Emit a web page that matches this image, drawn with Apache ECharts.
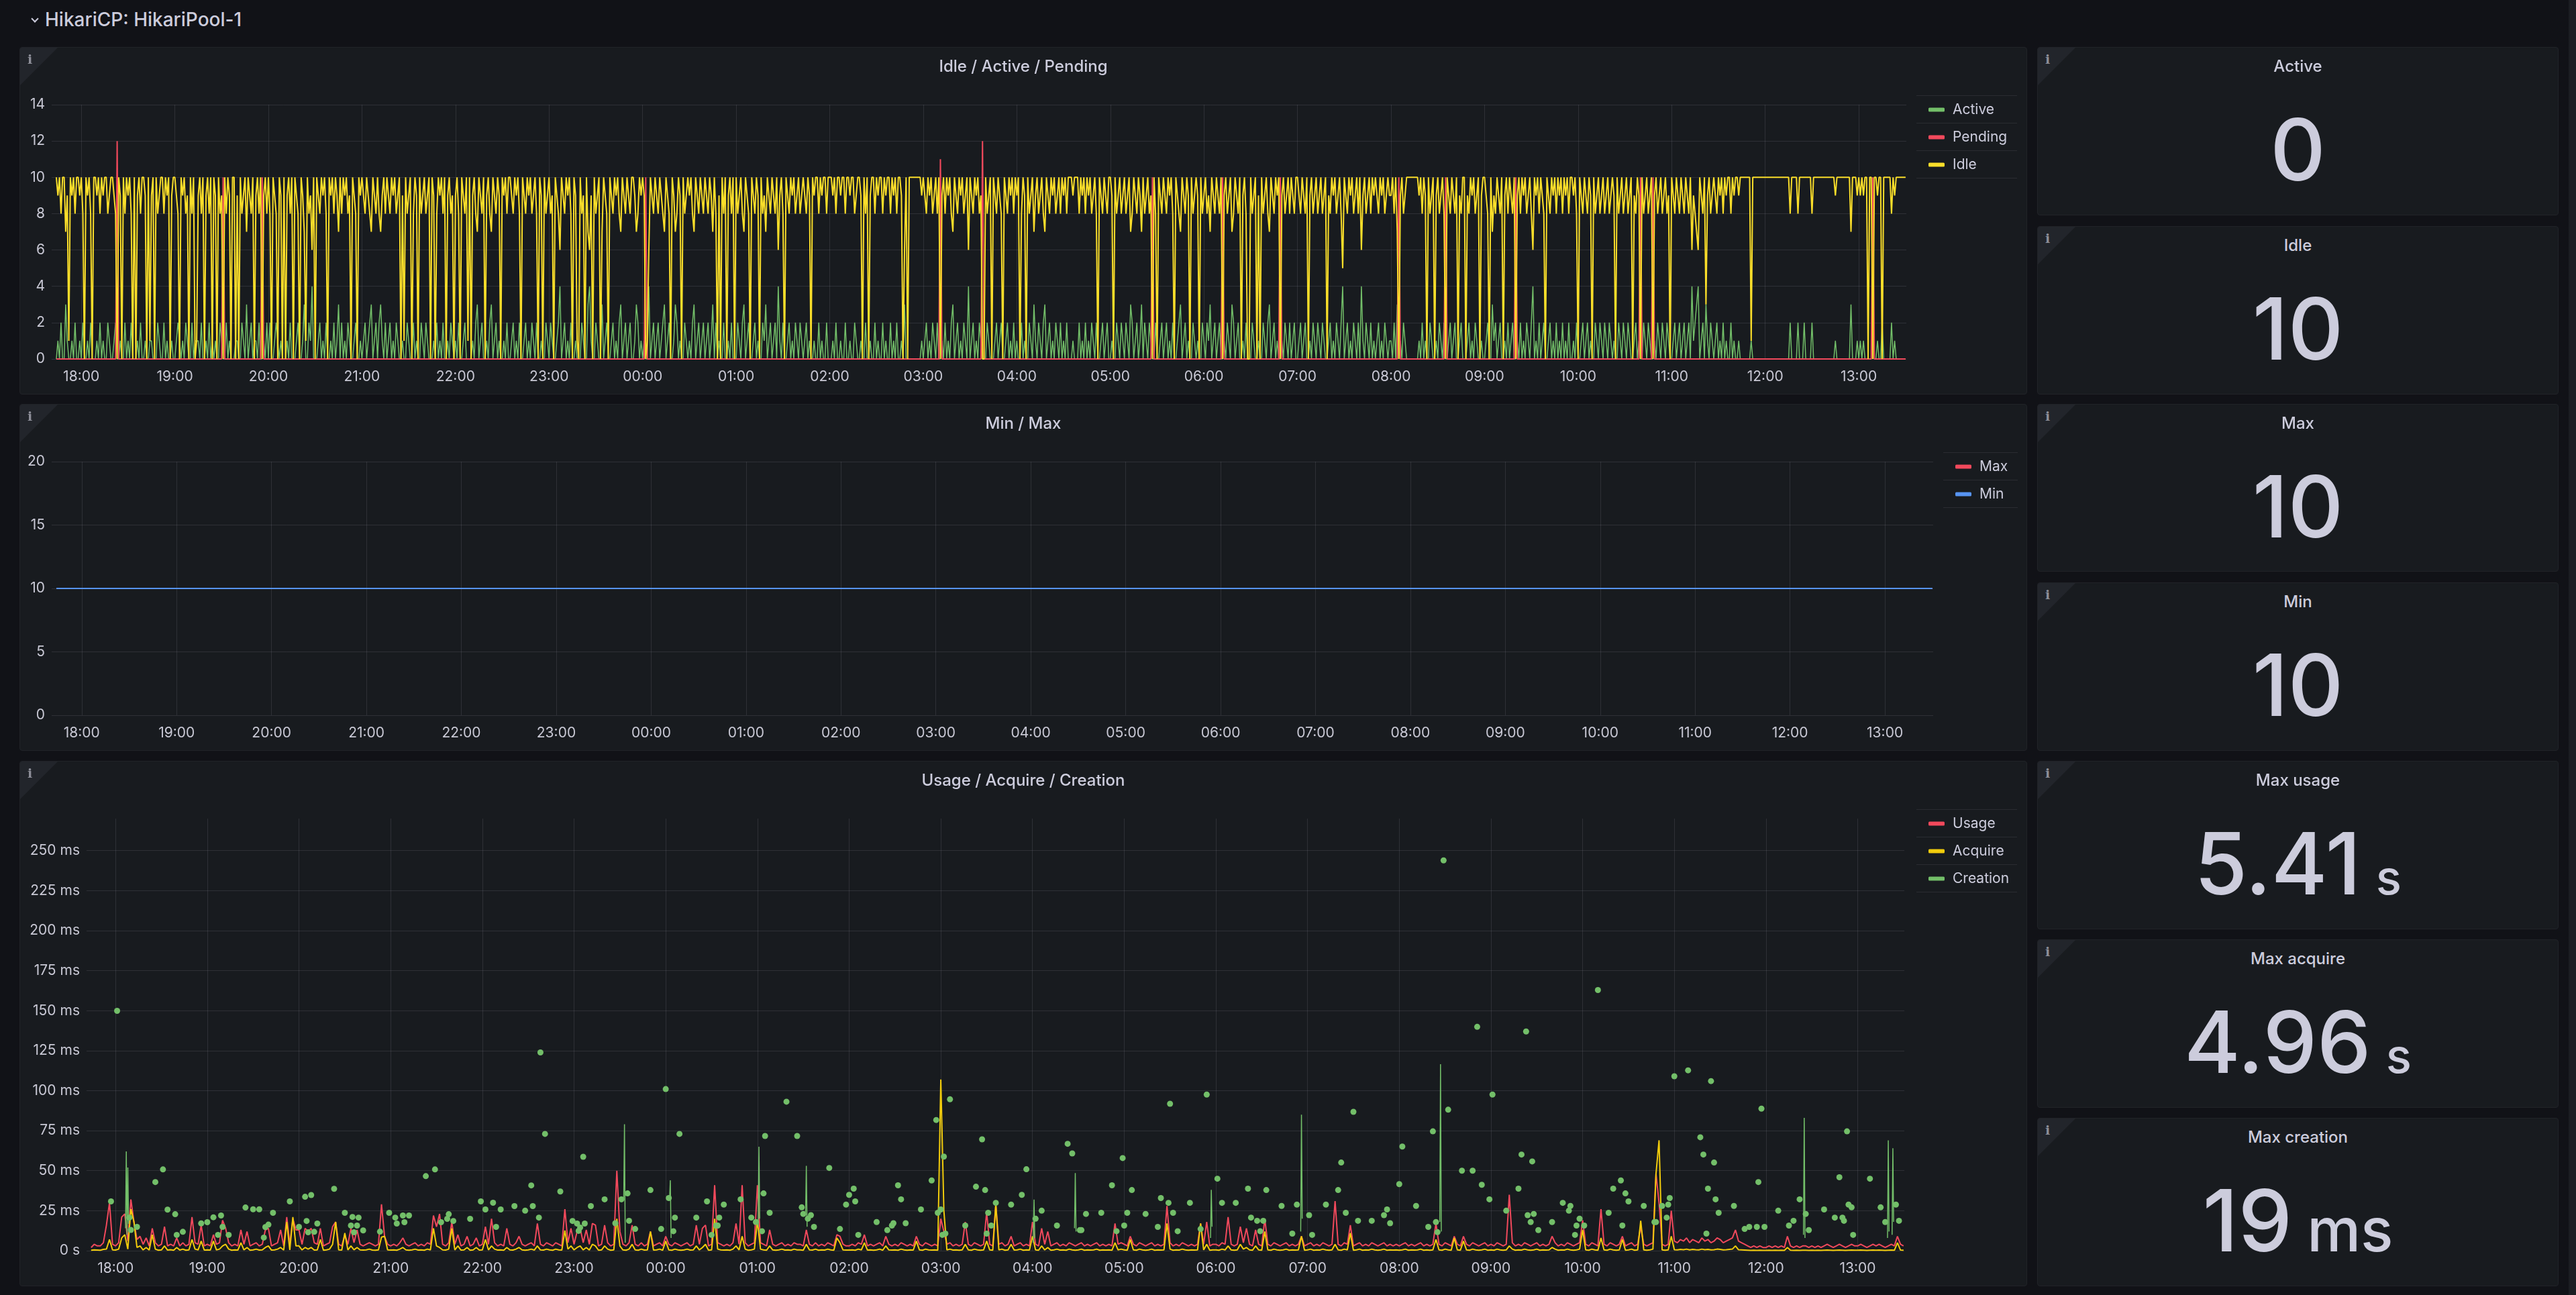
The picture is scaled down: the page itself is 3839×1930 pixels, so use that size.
<!DOCTYPE html>
<html>
<head>
<meta charset="utf-8">
<title>HikariCP: HikariPool-1</title>
<script src="https://cdn.jsdelivr.net/npm/echarts@6.0.0/dist/echarts.min.js"></script>
<style>
html,body{margin:0;padding:0;background:#111217;}
body{width:3839px;height:1930px;position:relative;overflow:hidden;font-family:Inter,Roboto,"Noto Sans",sans-serif;color:#ccccdc;}
.row{position:absolute;left:67px;top:15px;font-size:28px;line-height:28px;font-weight:500;white-space:nowrap;}
.chev{position:absolute;left:48px;top:24px;width:6px;height:6px;border-right:2px solid #ccccdc;border-bottom:2px solid #ccccdc;transform:rotate(45deg);}
.panel{position:absolute;background:#181b1f;border:1px solid #212328;border-radius:4px;overflow:hidden;box-sizing:border-box;}
.corner{position:absolute;left:0;top:0;width:0;height:0;border-top:56px solid #22252b;border-right:56px solid transparent;z-index:2;}
.info{position:absolute;left:11px;top:6px;font:bold 19px "DejaVu Serif",serif;color:#8e8f99;z-index:3;}
.ptitle{position:absolute;left:0;right:0;top:14px;line-height:28px;text-align:center;font-size:24px;font-weight:500;z-index:3;white-space:nowrap;}
.chart{position:absolute;left:0;top:0;width:100%;height:100%;}
.sep{position:absolute;height:1px;background:#2a2c31;z-index:3;}
.sval{position:absolute;left:0;right:0;top:88px;text-align:center;font-size:128px;line-height:128px;font-weight:500;color:#ccccdc;white-space:nowrap;}
.unit{margin-left:22px;}
.scroll{position:absolute;left:3828px;top:0;width:11px;height:1930px;background:#1b1d22;}
</style>
</head>
<body>
<div class="chev"></div>
<div class="row">HikariCP: HikariPool-1</div>

<div class="panel" id="p1" style="left:29px;top:70px;width:2992px;height:518px">
  <div class="chart" id="c1"></div>
  <div class="corner"></div><div class="info">i</div>
  <div class="ptitle">Idle / Active / Pending</div>
  <div class="sep" style="left:2826px;top:71px;width:150px"></div>
  <div class="sep" style="left:2826px;top:112px;width:150px"></div>
  <div class="sep" style="left:2826px;top:153px;width:150px"></div>
  <div class="sep" style="left:2826px;top:194px;width:150px"></div>
</div>

<div class="panel" id="p2" style="left:29px;top:602px;width:2992px;height:517px">
  <div class="chart" id="c2"></div>
  <div class="corner"></div><div class="info">i</div>
  <div class="ptitle">Min / Max</div>
  <div class="sep" style="left:2866px;top:71px;width:111px"></div>
  <div class="sep" style="left:2866px;top:112px;width:111px"></div>
  <div class="sep" style="left:2866px;top:153px;width:111px"></div>
</div>

<div class="panel" id="p3" style="left:29px;top:1134px;width:2992px;height:783px">
  <div class="chart" id="c3"></div>
  <div class="corner"></div><div class="info">i</div>
  <div class="ptitle">Usage / Acquire / Creation</div>
  <div class="sep" style="left:2826px;top:71px;width:150px"></div>
  <div class="sep" style="left:2826px;top:112px;width:150px"></div>
  <div class="sep" style="left:2826px;top:153px;width:150px"></div>
  <div class="sep" style="left:2826px;top:194px;width:150px"></div>
</div>
<div class="scroll"></div>

<script>
// ---- data ----

// idle connections, one value per minute from 17:44 to 13:30
var idleConnections = [
// 17:44
10,9,10,8,10,10,7,9,1,10,9,10,8,10,10,9,
// 18:00
10,8,0,10,9,10,8,0,10,10,9,10,8,10,9,10,10,8,9,10,10,9,8,0,10,9,0,10,8,10,
9,10,8,0,10,0,9,10,8,10,10,9,0,10,1,9,10,0,10,8,9,10,10,8,10,9,10,0,9,10,
// 19:00
10,9,8,0,10,9,10,8,9,0,10,8,10,0,1,9,10,8,10,0,9,10,8,10,0,10,9,0,10,8,
9,0,10,8,10,9,0,10,10,0,9,0,10,8,9,10,7,10,9,8,10,0,9,10,8,10,0,9,10,8,
// 20:00
10,8,0,10,9,8,0,10,9,0,10,0,9,10,8,10,0,10,9,8,0,10,9,7,1,10,8,9,6,10,
0,10,9,8,10,9,10,8,0,10,9,10,8,10,9,7,10,8,10,9,10,8,9,0,10,9,8,0,10,9,
// 21:00
10,9,8,10,9,8,7,10,9,8,10,8,7,9,10,8,10,9,8,10,9,10,8,9,10,0,9,1,10,8,
9,10,0,8,10,9,0,10,8,9,10,8,9,10,0,10,9,0,8,10,9,10,8,10,0,9,10,8,9,0,
// 22:00
9,10,8,0,10,9,8,10,1,10,0,9,10,8,7,10,9,8,10,0,9,10,8,7,10,9,8,10,9,0,
10,9,10,8,10,10,9,8,10,9,10,8,0,10,9,8,10,9,10,8,9,10,8,0,10,9,0,10,8,9,
// 23:00
10,8,9,0,10,9,8,6,10,9,8,10,9,10,8,0,10,9,1,0,10,8,9,0,10,7,6,9,0,10,
8,9,10,0,7,10,9,8,0,10,9,8,10,9,10,8,7,10,9,8,10,9,8,10,10,9,7,8,10,9,
// 00:00
10,9,0,1,6,10,9,8,10,9,8,10,9,8,7,10,9,8,0,10,9,7,8,10,9,0,10,8,9,10,
9,10,8,7,10,9,8,10,9,8,10,9,8,10,9,7,10,8,0,9,0,10,8,10,0,9,10,8,10,0,
// 01:00
10,8,9,10,8,7,10,9,8,0,10,9,8,10,9,0,10,8,9,7,10,9,8,10,9,8,10,6,9,10,
8,0,10,9,8,10,9,10,8,9,10,8,9,10,9,8,10,9,0,10,9,10,10,8,10,9,10,10,8,10,
// 02:00
10,10,9,10,8,10,10,9,10,10,8,10,10,9,10,10,8,9,10,10,9,0,10,8,10,0,9,10,10,8,
10,9,10,10,8,10,9,10,10,8,10,9,10,8,10,10,9,0,6,10,0,10,10,10,10,10,10,10,10,9,
// 03:00
10,9,8,10,9,10,8,9,10,8,10,0,9,10,8,10,9,10,8,7,10,9,8,10,9,10,8,9,10,6,
10,9,8,10,9,10,8,9,0,0,10,8,9,10,0,10,9,8,10,9,8,0,10,9,8,10,9,10,8,10,
// 04:00
9,10,0,8,10,9,0,10,8,9,10,7,9,10,8,9,10,8,7,10,9,8,10,9,10,8,9,10,8,10,
9,10,8,10,10,10,9,10,10,10,8,10,9,10,8,10,9,10,8,9,10,8,0,10,9,8,10,9,8,10,
// 05:00
10,9,0,10,8,9,10,8,9,10,8,9,10,7,8,10,9,8,10,9,7,10,8,9,10,8,9,0,10,8,
0,10,9,8,10,9,8,10,9,10,8,0,10,9,8,7,10,9,8,10,9,0,10,8,9,10,9,0,10,8,
// 06:00
9,10,8,9,7,10,9,8,10,9,8,10,0,9,10,8,9,10,7,8,10,9,8,10,0,9,10,8,0,0,
10,8,9,10,0,9,0,10,8,9,10,8,7,10,9,8,10,9,10,0,9,10,8,9,10,8,10,9,8,10,
// 07:00
10,9,8,10,9,8,10,0,9,10,8,9,10,8,9,10,8,9,10,0,9,8,10,9,10,8,9,10,8,5,
10,9,8,10,9,10,8,9,10,8,10,6,9,10,8,9,10,8,10,9,10,9,8,10,9,10,8,9,10,9,
// 08:00
9,10,8,10,7,0,9,10,8,9,10,10,10,10,10,10,10,10,9,10,8,10,9,0,10,8,9,10,0,9,
10,8,9,10,8,0,10,9,8,10,9,8,10,0,9,8,10,10,0,9,8,10,9,10,8,9,10,0,9,10,
// 09:00
10,9,8,0,10,7,9,8,10,9,8,10,0,9,10,8,10,9,8,10,0,9,10,8,10,9,10,8,9,10,
8,6,10,9,10,8,10,9,8,0,10,9,8,10,9,10,8,10,9,10,8,10,9,10,8,10,10,9,10,8,
// 10:00
0,10,9,8,10,9,8,10,9,0,10,8,9,10,8,9,10,8,9,10,8,9,10,9,0,10,8,9,10,8,
9,10,8,9,10,0,9,8,10,9,0,10,8,9,10,8,9,10,0,9,10,8,9,10,8,9,10,8,9,0,
// 11:00
10,9,8,10,9,8,10,9,8,10,9,8,10,6,9,8,7,6,10,9,8,10,3,9,10,8,9,10,9,8,
10,9,10,8,10,9,10,10,8,10,9,10,10,9,10,10,10,10,10,10,10,1,10,10,10,10,10,10,10,10,
// 12:00
10,10,10,10,10,10,10,10,10,10,10,10,10,10,10,10,8,10,10,10,10,8,10,10,10,10,10,10,10,10,
8,10,10,10,10,10,10,10,10,10,10,10,10,10,10,9,10,10,10,10,10,10,10,10,10,7,10,10,10,9,
// 13:00
10,9,10,9,10,10,0,10,10,0,10,10,9,10,10,0,10,10,10,10,10,8,10,9,10,10,10,10,10,10,10
];

// active connections, same minutes
var activeConnections = [
// 17:44
0,1,0,2,0,0,3,1,0,0,1,0,2,0,0,1,
// 18:00
0,2,0,0,1,0,2,0,0,0,1,0,2,0,1,0,0,2,1,0,0,1,2,0,0,1,0,0,2,0,
1,0,2,0,0,0,1,0,2,0,0,1,0,0,1,1,0,0,0,2,1,0,0,2,0,1,0,0,1,0,
// 19:00
0,1,2,1,0,1,0,2,1,0,0,2,0,1,1,1,0,2,0,0,1,0,2,0,1,0,1,0,0,2,
1,0,0,2,0,1,0,0,0,1,1,0,0,2,1,0,3,0,1,2,0,1,1,0,2,0,0,1,0,2,
// 20:00
0,2,0,0,1,2,1,0,1,0,0,0,1,0,2,0,0,0,1,2,0,0,1,3,0,0,2,1,4,0,
0,0,1,2,0,1,0,2,0,0,1,0,2,0,1,3,0,2,0,1,0,2,1,0,0,1,2,0,0,1,
// 21:00
0,1,2,0,1,2,3,0,1,2,0,2,3,1,0,2,0,1,2,0,1,0,2,1,0,0,1,0,0,2,
1,0,0,2,0,1,0,0,2,1,0,2,1,0,0,0,1,0,2,0,1,0,2,0,0,1,0,2,1,0,
// 22:00
1,0,2,0,0,1,2,0,0,0,0,1,0,2,3,0,1,2,0,0,1,0,2,3,0,1,2,0,1,0,
0,1,0,2,0,0,1,2,0,1,0,2,0,0,1,2,0,1,0,2,1,0,2,0,0,1,0,0,2,1,
// 23:00
0,2,1,0,0,1,2,4,0,1,2,0,1,0,2,0,0,1,0,0,0,2,1,0,0,3,4,1,0,0,
2,1,0,0,3,0,1,2,0,0,1,2,0,1,0,2,3,0,1,2,0,1,2,0,0,1,3,2,0,1,
// 00:00
0,1,0,0,4,0,1,2,0,1,2,0,1,2,3,0,1,2,0,0,1,3,2,0,1,0,0,2,1,0,
1,0,2,3,0,1,2,0,1,2,0,1,2,0,1,3,0,2,0,1,0,0,2,0,0,1,0,2,0,0,
// 01:00
0,2,1,0,2,3,0,1,2,0,0,1,2,0,1,0,0,2,1,3,0,1,2,0,1,2,0,4,1,0,
2,0,0,1,2,0,1,0,2,1,0,2,1,0,1,2,0,1,0,0,1,0,0,2,0,1,0,0,2,0,
// 02:00
0,0,1,0,2,0,0,1,0,0,2,0,0,1,0,0,2,1,0,0,1,0,0,2,0,0,1,0,0,2,
0,1,0,0,2,0,1,0,0,2,0,1,0,2,0,0,1,0,3,0,0,0,0,0,0,0,0,0,0,1,
// 03:00
0,1,2,0,1,0,2,1,0,2,0,0,1,0,2,0,1,0,2,3,0,1,2,0,1,0,2,1,0,4,
0,1,2,0,1,0,2,1,0,0,0,2,1,0,0,0,1,2,0,1,2,0,0,1,2,0,1,0,2,0,
// 04:00
1,0,0,2,0,1,0,0,2,1,0,3,1,0,2,1,0,2,3,0,1,2,0,1,0,2,1,0,2,0,
1,0,2,0,0,0,1,0,0,0,2,0,1,0,2,0,1,0,2,1,0,2,0,0,1,2,0,1,2,0,
// 05:00
0,1,0,0,2,1,0,2,1,0,2,1,0,3,2,0,1,2,0,1,3,0,2,1,0,2,1,0,0,2,
0,0,1,2,0,1,2,0,1,0,2,0,0,1,2,3,0,1,2,0,1,0,0,2,1,0,1,0,0,2,
// 06:00
1,0,2,1,3,0,1,2,0,1,2,0,0,1,0,2,1,0,3,2,0,1,2,0,0,1,0,2,0,0,
0,2,1,0,0,1,0,0,2,1,0,2,3,0,1,2,0,1,0,0,1,0,2,1,0,2,0,1,2,0,
// 07:00
0,1,2,0,1,2,0,0,1,0,2,1,0,2,1,0,2,1,0,0,1,2,0,1,0,2,1,0,2,4,
0,1,2,0,1,0,2,1,0,2,0,4,1,0,2,1,0,2,0,1,0,1,2,0,1,0,2,1,0,1,
// 08:00
1,0,2,0,3,0,1,0,2,1,0,0,0,0,0,0,0,0,1,0,2,0,1,0,0,2,1,0,0,1,
0,2,1,0,2,0,0,1,2,0,1,2,0,0,1,2,0,0,0,1,2,0,1,0,2,1,0,0,1,0,
// 09:00
0,1,2,0,0,3,1,2,0,1,2,0,0,1,0,2,0,1,2,0,0,1,0,2,0,1,0,2,1,0,
2,4,0,1,0,2,0,1,2,0,0,1,2,0,1,0,2,0,1,0,2,0,1,0,2,0,0,1,0,2,
// 10:00
0,0,1,2,0,1,2,0,1,0,0,2,1,0,2,1,0,2,1,0,2,1,0,1,0,0,2,1,0,2,
1,0,2,1,0,0,1,2,0,1,0,0,2,1,0,2,1,0,0,1,0,2,1,0,2,1,0,2,1,0,
// 11:00
0,1,2,0,1,2,0,1,2,0,1,2,0,4,1,2,3,4,0,1,2,0,3,1,0,2,1,0,1,2,
0,1,0,2,0,1,0,0,2,0,1,0,0,1,0,0,0,0,0,0,0,1,0,0,0,0,0,0,0,0,
// 12:00
0,0,0,0,0,0,0,0,0,0,0,0,0,0,0,0,2,0,0,0,0,2,0,0,0,2,0,0,0,0,
2,0,0,0,0,0,0,0,0,0,0,0,0,0,0,1,0,0,0,0,0,0,0,0,0,3,0,0,0,1,
// 13:00
0,1,0,1,0,0,0,0,0,3,0,0,1,0,0,2,0,0,0,0,0,2,0,1,0,0,0,0,0,0,0
];

// pending threads: zero except these minutes
var pendingSpikes = [
['18:23',12],['19:31',10],['19:56',10],['00:02',10],['03:11',11],['03:38',12],['05:27',10],
['06:12',10],['06:49',10],['08:05',10],['08:35',10],['09:20',10],['10:40',10],['10:48',10],['13:09',10]
];

// pool limits
var poolTimes = ['17:44','18:00','19:00','20:00','21:00','22:00','23:00','00:00','01:00','02:00','03:00',
'04:00','05:00','06:00','07:00','08:00','09:00','10:00','11:00','12:00','13:00','13:30'];
var maxPool = [10,10,10,10,10,10,10,10,10,10,10,10,10,10,10,10,10,10,10,10,10,10];
var minPool = [10,10,10,10,10,10,10,10,10,10,10,10,10,10,10,10,10,10,10,10,10,10];

// usage time (ms), one value every 2 minutes from 17:44 to 13:30
var usageMs = [
// 17:44
2,4,3,3,5,16,30,4,
// 18:00
3,5,21,23,6,32,18,7,9,4,8,3,14,5,3,4,15,3,4,3,8,3,5,3,4,21,5,4,16,3,
// 19:00
4,3,10,4,5,19,14,5,3,4,3,13,4,12,3,4,5,3,4,13,14,3,4,5,13,3,21,4,20,13,
// 20:00
13,4,14,12,14,5,4,14,3,4,5,15,18,4,3,10,4,14,5,13,4,3,4,5,4,3,4,29,9,4,
// 21:00
3,4,3,5,8,4,3,4,5,3,4,3,5,4,22,15,23,4,3,5,18,4,10,3,4,9,3,4,8,3,
// 22:00
4,15,4,20,5,3,4,3,14,4,3,5,9,4,3,4,5,3,17,4,3,5,4,3,5,4,3,26,5,14,
// 23:00
4,12,14,5,13,4,17,16,3,4,16,5,3,4,50,12,4,3,5,16,4,3,5,3,4,12,3,4,5,3,
// 00:00
9,4,3,5,4,3,4,5,3,4,16,4,14,16,3,4,41,5,4,3,4,3,5,17,4,41,5,3,4,5,
// 01:00
41,5,4,3,13,4,3,4,5,3,4,3,5,4,4,3,13,4,3,5,3,4,3,5,4,3,10,9,4,3,
// 02:00
3,4,3,5,4,10,3,4,3,4,5,3,9,4,3,4,3,5,4,3,4,3,9,4,3,5,4,3,4,3,
// 03:00
20,12,4,5,3,4,3,4,18,4,3,5,4,3,4,24,4,3,29,4,5,3,4,9,3,4,5,3,4,3,
// 04:00
18,4,3,14,4,12,3,4,5,3,4,3,5,4,3,4,5,3,4,3,4,5,3,4,3,4,3,17,4,5,
// 05:00
4,3,9,4,3,5,4,3,4,5,3,4,3,4,28,5,3,4,3,5,4,3,4,3,4,17,4,18,3,4,
// 06:00
4,3,5,4,21,4,3,4,15,5,14,4,3,13,4,3,20,4,3,5,4,3,4,5,3,4,3,4,9,3,
// 07:00
4,5,3,4,3,5,4,3,4,31,4,3,5,4,16,3,4,5,3,4,3,5,4,3,4,5,3,4,3,4,
// 08:00
3,4,5,3,4,3,4,5,3,4,3,4,17,4,3,5,4,3,9,4,3,9,4,3,5,4,3,4,5,3,
// 09:00
4,3,5,4,3,4,35,5,3,4,3,5,4,3,4,5,3,4,3,4,9,5,3,4,3,5,4,3,4,5,
// 10:00
19,4,3,5,4,3,26,4,3,5,4,3,4,9,3,4,5,3,4,15,4,3,4,5,48,30,4,3,4,25,
// 11:00
6,5,7,6,8,5,7,6,5,8,6,7,5,6,8,7,5,6,7,8,13,6,5,4,3,2,3,2,3,2,
// 12:00
2,3,2,3,2,3,2,9,3,2,3,2,3,3,2,3,2,3,2,3,4,3,2,3,4,3,2,3,4,3,
// 13:00
3,4,3,2,3,4,3,4,3,2,3,4,3,9,4,3
];

// acquire time (ms), same 2-minute steps
var acquireMs = [
// 17:44
0.3,0.5,0.4,0.3,0.8,1,7,0.5,
// 18:00
0.4,1,8,10,1,26,18,2,3,0.5,2,0.4,10,1,0.3,0.5,3,0.4,0.6,0.3,2,0.4,1,0.3,0.5,7,1,0.5,6,0.4,
// 19:00
0.5,0.4,6,0.5,1,3,4,1,0.3,0.5,0.4,5,0.5,2,0.3,0.5,1,0.4,0.5,2,3,0.4,0.5,1,2,0.4,18,0.5,21,3,
// 20:00
3,0.5,2,1,2,0.4,0.5,7,0.3,0.5,1,4,18,0.5,0.4,11,0.5,3,0.6,2,0.5,0.4,0.5,1,0.4,0.3,0.5,8.5,9,0.5,
// 21:00
0.4,0.5,0.3,1,2,0.5,0.3,0.5,1,0.4,0.5,0.3,1,0.5,14,3,2,0.5,0.4,1,14,0.5,3,0.4,0.5,2,0.3,0.5,2,0.4,
// 22:00
0.5,7,0.5,3,1,0.4,0.5,0.3,2,0.5,0.4,1,2,0.5,0.3,0.5,1,0.4,3,0.5,0.4,1,0.5,0.3,1,0.5,0.4,12.6,1,3,
// 23:00
0.5,2,3,0.5,2,0.4,4,3,0.3,0.5,3,1,0.3,0.5,20,3,0.5,0.3,1,4,0.5,0.3,1,0.4,0.5,12,0.4,0.5,1,0.3,
// 00:00
6,0.5,0.3,1,0.5,0.3,0.5,1,0.4,0.5,3,0.5,2,4,0.3,0.5,20,1,0.5,0.4,0.5,0.3,1,3,0.5,9,1,0.3,0.5,1,
// 01:00
18.7,1,0.5,0.3,3,0.5,0.3,0.5,1,0.4,0.5,0.3,1,0.5,0.5,0.3,4,0.5,0.4,1,0.3,0.5,0.4,1,0.5,0.3,8,5,0.5,0.4,
// 02:00
0.4,0.5,0.3,1,0.5,5,0.4,0.5,0.3,0.5,1,0.3,3,0.5,0.4,0.5,0.3,1,0.5,0.3,0.5,0.4,6,0.5,0.3,1,0.5,0.4,0.5,0.3,
// 03:00
107,25,0.5,1,0.4,0.5,0.3,0.5,4,0.5,0.3,1,0.5,0.3,0.5,6,0.5,0.3,29,0.5,1,0.3,0.5,4,0.4,0.5,1,0.3,0.5,0.4,
// 04:00
9,0.5,0.3,3,0.5,2,0.3,0.5,1,0.4,0.5,0.3,1,0.5,0.3,0.5,1,0.3,0.5,0.4,0.5,1,0.3,0.5,0.4,0.5,0.3,5,0.5,1,
// 05:00
0.5,0.3,7,0.5,0.3,1,0.5,0.3,0.5,1,0.3,0.5,0.4,0.5,17,1,0.3,0.5,0.4,1,0.5,0.3,0.5,0.4,0.5,17,0.5,4,0.3,0.5,
// 06:00
0.5,0.3,1,0.5,3,0.5,0.3,0.5,4,1,2,0.5,0.3,3,0.5,0.3,12,0.5,0.3,1,0.5,0.3,0.5,1,0.3,0.5,0.4,0.5,9,0.3,
// 07:00
0.5,1,0.3,0.5,0.4,1,0.5,0.3,0.5,4,0.5,0.3,1,0.5,11,0.3,0.5,1,0.3,0.5,0.4,1,0.5,0.3,0.5,1,0.3,0.5,0.4,0.5,
// 08:00
0.3,0.5,1,0.3,0.5,0.4,0.5,1,0.3,0.5,0.3,0.5,7,0.5,0.3,1,0.5,0.3,8,0.5,0.3,6,0.5,0.3,1,0.5,0.3,0.5,1,0.3,
// 09:00
0.5,0.3,1,0.5,0.3,0.5,3,1,0.3,0.5,0.4,1,0.5,0.3,0.5,1,0.3,0.5,0.4,0.5,2,1,0.3,0.5,0.4,1,0.5,0.3,0.5,1,
// 10:00
13,0.5,0.3,1,0.5,0.3,8,0.5,0.3,1,0.5,0.3,0.5,7,0.3,0.5,1,0.3,0.5,18.7,0.5,0.3,0.5,1,48,69,0.5,0.3,0.5,9,
// 11:00
0.6,0.5,0.8,0.6,1,0.5,0.8,0.6,0.5,1,0.6,0.8,0.5,0.6,1,0.8,0.5,0.6,0.8,1,3,0.6,0.5,0.4,0.3,0.2,0.3,0.2,0.3,0.2,
// 12:00
0.2,0.3,0.2,0.3,0.2,0.3,0.2,2,0.3,0.2,0.3,0.2,0.3,0.3,0.2,0.3,0.2,0.3,0.2,0.3,0.4,0.3,0.2,0.3,0.4,0.3,0.2,0.3,0.4,0.3,
// 13:00
0.3,0.4,0.3,0.2,0.3,0.4,0.3,0.4,0.3,0.2,0.3,0.4,0.3,5,0.4,0.3
];

// connection creation (ms): isolated samples shown as dots
var creationDots = [
['17:57',30.8],['18:01',149.9],['18:09',20.7],['18:10',13],['18:14',14.9],['18:26',42.9],['18:31',50.8],['18:34',25.7],['18:39',22.8],['18:40',9.9],['18:44',11.8],['18:56',17.1],
['19:00',17.8],['19:04',20.9],['19:07',9.9],['19:09',22],['19:10',14.9],['19:14',9.9],['19:25',27],['19:30',25.9],['19:34',25.9],['19:37',8.2],['19:38',14.8],['19:40',16.3],['19:43',23.7],['19:54',30.8],
['20:00',14.9],['20:04',33.7],['20:05',18.6],['20:06',11.5],['20:08',34.8],['20:10',11.8],['20:12',17],['20:23',38.7],['20:30',23.7],['20:34',15.7],['20:35',21.1],['20:36',11.5],['20:38',15.7],['20:39',20.7],['20:42',12.7],['20:53',11.9],['20:59',23.7],
['21:03',20.7],['21:04',17],['21:08',22],['21:09',17.8],['21:12',22],['21:23',46.6],['21:29',50.8],['21:33',17.8],['21:37',19.9],['21:38',22.8],['21:41',18.6],['21:52',19.9],['21:59',30.8],
['22:02',25.8],['22:07',30],['22:09',14.9],['22:12',25.8],['22:21',27.9],['22:28',25],['22:32',40.8],['22:33',27.9],['22:37',20.7],['22:38',123.9],['22:41',73],['22:51',37],['22:59',18.6],
['23:02',17],['23:03',12.4],['23:04',14.5],['23:06',58.7],['23:07',17],['23:11',27.9],['23:20',32.1],['23:27',17.2],['23:31',32.1],['23:35',35.8],['23:36',18.7],['23:40',13.6],['23:50',37.9],['23:57',13.6],
['00:00',101],['00:02',32.9],['00:05',12.2],['00:06',20.7],['00:09',73],['00:20',20.7],['00:27',30.8],['00:30',9.9],['00:33',15.7],['00:34',15.7],['00:35',20.7],['00:38',28.8],['00:49',32.1],['00:56',20.7],['00:59',17.9],
['01:03',12.2],['01:04',35.8],['01:05',71.7],['01:08',23.7],['01:19',93.1],['01:26',71.7],['01:29',27.1],['01:30',23],['01:33',20],['01:35',22.2],['01:37',14.9],['01:47',51.7],['01:54',13.6],['01:58',28.8],
['02:00',34.9],['02:03',38.8],['02:04',30.8],['02:06',9.9],['02:18',17.9],['02:25',12.9],['02:28',15.7],['02:29',17.2],['02:32',40.9],['02:34',32.1],['02:37',17.2],['02:47',25.8],['02:54',43.9],['02:57',81.7],['02:58',23.7],
['03:00',25.8],['03:01',9.9],['03:02',58.8],['03:03',10.7],['03:06',94.6],['03:16',15.7],['03:23',40],['03:27',69.6],['03:29',37.9],['03:30',10.7],['03:31',23.7],['03:33',15.7],['03:36',29.9],['03:46',28.8],['03:53',34.9],['03:56',50.9],
['04:02',20],['04:06',25],['04:16',15.7],['04:23',66.8],['04:26',60.8],['04:31',12.9],['04:32',12.9],['04:35',23],['04:45',23.7],['04:52',40.9],['04:55',12.2],['04:59',57.9],
['05:00',15.7],['05:02',23.7],['05:05',37.9],['05:14',23],['05:22',14.9],['05:24',32.9],['05:29',29.9],['05:30',91.8],['05:32',23.7],['05:35',12.2],['05:43',29.9],['05:50',13.6],['05:54',97.6],
['06:01',45],['06:04',29.9],['06:13',29.9],['06:21',38.8],['06:23',20.7],['06:27',18.7],['06:29',12.2],['06:31',18.7],['06:33',37.9],['06:43',28],['06:50',10.7],['06:53',28.8],
['07:01',22.2],['07:03',9.9],['07:12',28.8],['07:20',37.9],['07:22',55.1],['07:25',23.7],['07:30',86.8],['07:33',18.7],['07:42',18.7],['07:50',22.2],['07:52',25.8],['07:54',17.2],
['08:00',41.6],['08:02',65.1],['08:11',28],['08:19',14.9],['08:22',74.6],['08:24',17.9],['08:25',11.6],['08:29',243.9],['08:32',88.1],['08:41',50],['08:48',50],['08:51',139.9],['08:54',41.2],['08:59',32.1],
['09:01',97.6],['09:10',25],['09:18',38.8],['09:20',60.1],['09:23',137],['09:24',22.2],['09:26',17.9],['09:27',55.8],['09:28',23],['09:31',12.9],['09:40',17.9],['09:47',29.9],['09:51',25],['09:52',28],['09:55',9.9],['09:56',15.7],['09:58',20],
['10:01',15.7],['10:10',162.9],['10:17',23.7],['10:20',38.8],['10:25',43.9],['10:26',15.7],['10:28',35.8],['10:30',30.8],['10:40',28],['10:47',17.9],['10:48',17.9],['10:52',28],['10:55',20.7],['10:56',28.8],['10:57',32.9],
['11:00',109],['11:09',112.7],['11:17',70.9],['11:19',60.1],['11:21',10.7],['11:22',38.8],['11:24',106],['11:26',55.1],['11:27',32.1],['11:29',23.7],['11:39',28],['11:46',13.6],['11:49',14.9],['11:54',14.9],['11:55',42.9],['11:57',88.8],['11:59',14.9],
['12:08',25],['12:15',15.7],['12:18',18.7],['12:22',32.1],['12:26',23],['12:28',12.9],['12:38',25.8],['12:45',20.7],['12:48',45.9],['12:50',20.7],['12:51',18.7],['12:53',74.6],['12:54',28.8],['12:56',27.1],['12:57',9.9],
['13:08',45],['13:15',27.1],['13:18',17.9],['13:25',28.8],['13:27',18.7]
];

// connection creation: consecutive samples drawn as thin lines
var creationRuns = [
[['18:06:30',14],['18:07',62],['18:07:30',10],['18:08',52],['18:08:30',16.8]],
[['23:32:30',32],['23:33',79],['23:33:30',5]],
[['00:02:30',32],['00:03',44],['00:03:30',8]],
[['01:00:30',15],['01:01',65],['01:01:30',20]],
[['01:31:30',22],['01:32',53],['01:32:30',15]],
[['04:00:30',5],['04:01',32],['04:01:30',8]],
[['04:27:30',14],['04:28',48.5],['04:28:30',12]],
[['05:56:30',8],['05:57',38],['05:57:30',15]],
[['06:55:30',12],['06:56',85],['06:56:30',20]],
[['08:26:30',18],['08:27',116.6],['08:27:30',12]],
[['12:24:30',10],['12:25',83],['12:25:30',8]],
[['13:19:30',8],['13:20',69],['13:20:30',12]],
[['13:22:30',10],['13:23',64],['13:23:30',18]]
];

// stat panels
var statTitles = ['Active','Idle','Max','Min','Max usage','Max acquire','Max creation'];
var statValues = ['0','10','10','10','5.41','4.96','19'];
var statUnits = ['','','','','s','s','ms'];

// ---- helpers ----
var DAY0 = Date.UTC(2024, 2, 4);
function ts(s) {
    var p = s.split(':');
    var h = +p[0], m = +p[1], sec = p[2] ? +p[2] : 0;
    var day = h < 17 ? 1 : 0;   // anything before 17:00 is on the next day
    return DAY0 + ((day * 24 + h) * 60 + m) * 60000 + sec * 1000;
}
function two(n) { return (n < 10 ? '0' : '') + n; }
function hhmm(v) { var d = new Date(v); return two(d.getUTCHours()) + ':' + two(d.getUTCMinutes()); }
function stepped(arr, start, stepMin) {
    var t0 = ts(start);
    return arr.map(function (v, i) { return [t0 + i * stepMin * 60000, v]; });
}

var GREEN = '#73BF69', RED = '#F2495C', YELLOW = '#FADE2A', GOLD = '#F2CC0C', BLUE = '#5794F2';
var GRIDC = 'rgba(204,204,220,0.12)';
var TXT = '#c8c8d4';
var FONT = 'Inter';

function xAxisCfg() {
    return {
        type: 'time', min: ts('17:41'), max: ts('13:30:30'),
        minInterval: 3600000, maxInterval: 3600000,
        axisLine: {show: false}, axisTick: {show: false},
        splitLine: {show: true, showMinLine: false, showMaxLine: false, lineStyle: {color: GRIDC, width: 1}},
        axisLabel: {color: TXT, fontSize: 21, fontFamily: FONT, margin: 16,
            showMinLabel: false, showMaxLabel: false, formatter: hhmm}
    };
}
function yAxisCfg(max, interval, fmt, hideTop) {
    return {
        type: 'value', min: 0, max: max, interval: interval,
        axisLine: {show: false}, axisTick: {show: false},
        splitLine: {show: true, showMaxLine: !hideTop, lineStyle: {color: GRIDC, width: 1}},
        axisLabel: {color: TXT, fontSize: 21, fontFamily: FONT, margin: 10,
            showMaxLabel: !hideTop, formatter: fmt}
    };
}
function legendCfg(left, names) {
    return {
        orient: 'vertical', left: left, top: 67, itemWidth: 24, itemHeight: 6, itemGap: 0,
        icon: 'roundRect', selectedMode: false, data: names,
        textStyle: {color: '#ccccdc', fontSize: 21, fontFamily: FONT, lineHeight: 41, padding: [0, 0, 0, 7]}
    };
}
function lineSeries(name, data, color, width) {
    return {name: name, type: 'line', data: data, showSymbol: false, color: color,
        lineStyle: {color: color, width: width}, emphasis: {disabled: true}, silent: true};
}

// ---- Idle / Active / Pending ----
var pendingMap = {};
pendingSpikes.forEach(function (p) { pendingMap[ts(p[0])] = p[1]; });
var activeData = stepped(activeConnections, '17:44', 1);
var idleData = stepped(idleConnections, '17:44', 1);
var pendingData = idleData.map(function (d) { return [d[0], pendingMap[d[0]] || 0]; });

var c1 = echarts.init(document.getElementById('c1'));
c1.setOption({
    animation: false, useUTC: true,
    grid: {left: 47, right: 179, top: 85, bottom: 52, outerBoundsMode: 'none'},
    legend: legendCfg(2839, ['Active', 'Pending', 'Idle']),
    xAxis: xAxisCfg(),
    yAxis: yAxisCfg(14, 2, null, false),
    series: [
        lineSeries('Active', activeData, GREEN, 1.5),
        lineSeries('Pending', pendingData, RED, 2),
        lineSeries('Idle', idleData, YELLOW, 2)
    ]
});

// ---- Min / Max ----
var maxData = poolTimes.map(function (t, i) { return [ts(t), maxPool[i]]; });
var minData = poolTimes.map(function (t, i) { return [ts(t), minPool[i]]; });
var c2 = echarts.init(document.getElementById('c2'));
c2.setOption({
    animation: false, useUTC: true,
    grid: {left: 47, right: 139, top: 85, bottom: 52, outerBoundsMode: 'none'},
    legend: legendCfg(2879, ['Max', 'Min']),
    xAxis: xAxisCfg(),
    yAxis: yAxisCfg(20, 5, null, false),
    series: [
        lineSeries('Max', maxData, RED, 2),
        lineSeries('Min', minData, BLUE, 2)
    ]
});

// ---- Usage / Acquire / Creation ----
var runs = creationDots.map(function (d) { return [d]; }).concat(creationRuns);
runs.sort(function (a, b) { return ts(a[0][0]) - ts(b[0][0]); });
var creationData = [];
runs.forEach(function (run) {
    run.forEach(function (p) {
        creationData.push({value: [ts(p[0]), p[1]], symbol: run.length > 1 ? 'none' : 'circle'});
    });
    creationData.push({value: [ts(run[run.length - 1][0]) + 1000, '-']});
});

var c3 = echarts.init(document.getElementById('c3'));
var creation = lineSeries('Creation', creationData, GREEN, 1.5);
creation.showSymbol = true;
creation.symbol = 'circle';
creation.symbolSize = 9;
creation.connectNulls = false;
creation.itemStyle = {color: GREEN, borderWidth: 0};
c3.setOption({
    animation: false, useUTC: true,
    grid: {left: 99, right: 182, top: 85, bottom: 52, outerBoundsMode: 'none'},
    legend: legendCfg(2839, ['Usage', 'Acquire', 'Creation']),
    xAxis: xAxisCfg(),
    yAxis: yAxisCfg(270, 25, function (v) { return v === 0 ? '0 s' : v + ' ms'; }, true),
    series: [
        lineSeries('Usage', stepped(usageMs, '17:44', 2), RED, 2),
        lineSeries('Acquire', stepped(acquireMs, '17:44', 2), GOLD, 2),
        creation
    ]
});

// ---- stat panels ----
var statTops = [70, 337, 602, 868, 1134, 1400, 1666];
var statHeights = [251, 251, 250, 251, 251, 251, 251];
var unitSizes = [0, 0, 0, 0, 71, 71, 90];
statTitles.forEach(function (t, i) {
    var d = document.createElement('div');
    d.className = 'panel';
    d.style.left = '3036px';
    d.style.top = statTops[i] + 'px';
    d.style.width = '777px';
    d.style.height = statHeights[i] + 'px';
    var unit = statUnits[i] ? '<span class="unit" style="font-size:' + unitSizes[i] + 'px">' + statUnits[i] + '</span>' : '';
    d.innerHTML = '<div class="corner"></div><div class="info">i</div>' +
        '<div class="ptitle">' + t + '</div>' +
        '<div class="sval">' + statValues[i] + unit + '</div>';
    document.body.appendChild(d);
});
</script>
</body>
</html>
